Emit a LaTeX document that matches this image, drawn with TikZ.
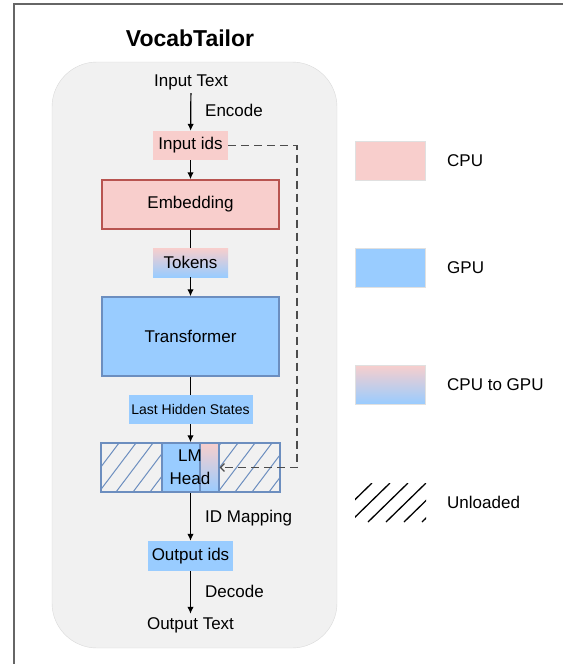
\documentclass[tikz,border=0pt]{standalone}
\usepackage{fontspec}
\setmainfont{Liberation Sans}
\usepackage{xcolor}
\usetikzlibrary{shapes,arrows,arrows.meta}
\definecolor{cpupink}{HTML}{F8CECC}
\definecolor{cpuedge}{HTML}{B85450}
\definecolor{gpublue}{HTML}{99CCFF}
\definecolor{gpuedge}{HTML}{6C8EBF}
\definecolor{panelgray}{HTML}{F1F1F1}
\tikzstyle{tag} = [rectangle, inner sep=0pt, text centered]
\tikzstyle{cpu} = [tag, fill=cpupink]
\tikzstyle{gpu} = [tag, fill=gpublue]
\tikzstyle{togpu} = [tag, top color=cpupink, bottom color=gpublue]
\tikzstyle{module} = [rectangle, line width=1.5pt, minimum width=177pt, text centered]
\tikzstyle{key} = [rectangle, draw=black!12, line width=0.8pt, minimum width=70pt, minimum height=39pt]
\tikzstyle{line} = [draw, line width=1.2pt, -{Latex[length=7pt,width=6.5pt]}]
\tikzstyle{plain} = [draw, line width=1.2pt]
\tikzstyle{label} = [anchor=west, inner sep=0pt]

\begin{document}
\begin{tikzpicture}[x=1pt, y=-1pt, font=\fontsize{17}{20}\selectfont]
\useasboundingbox (0,0) rectangle (563,664);
\draw [black!60, line width=1.5pt] (14,664) -- (14,4) -- (563,4);
\node [font=\bfseries\fontsize{23}{27}\selectfont] (title) at (190,38) {VocabTailor};
\node [rectangle, draw=black!15, fill=panelgray, rounded corners=45pt, minimum width=285pt, minimum height=586pt] (panel) at (194.5,355) {};

\node (in-text) at (191,82) {Input Text};
\node [cpu, minimum width=75pt, minimum height=29pt] (in-ids) at (190.5,145.5) {Input ids};
\node [module, draw=cpuedge, fill=cpupink, minimum height=49pt] (embed) at (190.5,204.5) {Embedding};
\node [togpu, minimum width=75pt, minimum height=29pt] (tokens) at (190.5,262.5) {Tokens};
\node [module, draw=gpuedge, fill=gpublue, minimum height=79pt] (transf) at (190.5,336.5) {Transformer};
\node [gpu, minimum width=124pt, minimum height=29pt, font=\fontsize{14}{16}\selectfont] (hidden) at (190.5,409.5) {Last Hidden States};

% lm head row
\begin{scope}
\clip (101,443) rectangle (162,492) (219,443) rectangle (280,492);
\foreach \x in {65,82,...,290}
  \draw [gpuedge, line width=1pt] (\x,492) -- ++(37,-49);
\end{scope}
\node [gpu, draw=gpuedge, line width=1.2pt, minimum width=38pt, minimum height=49pt] (lm-head) at (181,467.5) {};
\node [togpu, draw=gpuedge, line width=1.2pt, minimum width=19pt, minimum height=49pt] (lm-new) at (209.5,467.5) {};
\node [rectangle, draw=gpuedge, line width=1.5pt, minimum width=179pt, minimum height=49pt] (lm-row) at (190.5,467.5) {};
\node [align=center, font=\fontsize{17}{23}\selectfont] (lm-text) at (190,467.5) {LM\\Head};

\node [gpu, minimum width=85pt, minimum height=30pt] (out-ids) at (190.5,556) {Output ids};
\node (out-text) at (190.5,625) {Output Text};

\path [line] (in-text) -- (in-ids);
\node [label] (encode) at (205,110) {Encode};
\path [line] (in-ids) -- (embed);
\path [plain] (embed) -- (tokens);
\path [line] (tokens) -- (transf);
\path [plain] (transf) -- (hidden);
\path [line] (hidden) -- (lm-row);
\path [line] (lm-row) -- (out-ids);
\node [label] (id-map) at (205,518) {ID Mapping};
\path [line] (out-ids) -- (out-text);
\node [label] (decode) at (205,591) {Decode};

\coordinate (bend) at (297,467.5);
\path [draw, black!70, line width=1.2pt, dash pattern=on 8pt off 5pt, -{Straight Barb[length=4pt,width=8pt]}] (in-ids.east) -| (bend) -- (lm-new.east);

% legend
\node [key, fill=cpupink] (key-cpu) at (390,160.5) {};
\node [label] (cpu-text) at (447,160.5) {CPU};
\node [key, fill=gpublue] (key-gpu) at (390,267.5) {};
\node [label] (gpu-text) at (447,267.5) {GPU};
\node [key, top color=cpupink, bottom color=gpublue] (key-mix) at (390,384.5) {};
\node [label] (mix-text) at (447,384.5) {CPU to GPU};
\begin{scope}
\clip (355,483) rectangle (426,522);
\foreach \x in {332,350,...,430}
  \draw [black, line width=1.3pt] (\x,522) -- ++(40,-39);
\end{scope}
\node [rectangle, minimum width=70pt, minimum height=39pt] (key-unload) at (390,502.5) {};
\node [label] (unload-text) at (447,502.5) {Unloaded};
\end{tikzpicture}
\end{document}
